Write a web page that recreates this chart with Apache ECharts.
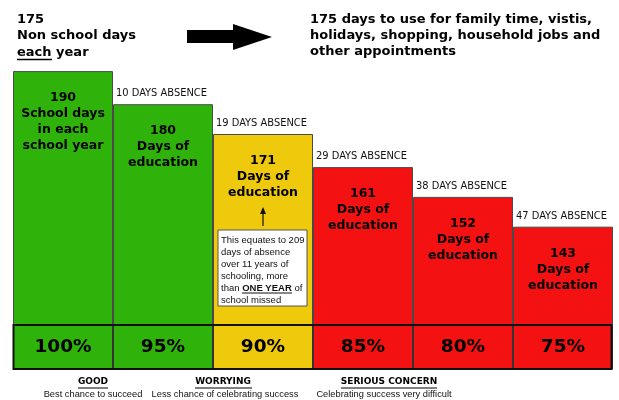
<!DOCTYPE html>
<html>
<head>
<meta charset="utf-8">
<script src="https://cdn.jsdelivr.net/npm/echarts@6/dist/echarts.min.js"></script>
<style>html,body{margin:0;padding:0;background:#fff}#c{width:619px;height:400px}</style>
</head>
<body>
<div id="c"></div>
<script>
// ---- data ----
const categories = ['100%', '95%', '90%', '85%', '80%', '75%'];
const educationDays = [190, 180, 171, 161, 152, 143];
const absenceDays = [null, 10, 19, 29, 38, 47];
const attendanceLabels = ['100%', '95%', '90%', '85%', '80%', '75%'];
const barCaptions = ['School days\nin each\nschool year', 'Days of\neducation', 'Days of\neducation', 'Days of\neducation', 'Days of\neducation', 'Days of\neducation'];
const bandLabels = ['GOOD', 'WORRYING', 'SERIOUS CONCERN'];
const bandNotes = ['Best chance to succeed', 'Less chance of celebrating success', 'Celebrating success very difficult'];

// ---- styles ----
const GREEN = '#2fb30a', YELLOW = '#efc90b', RED = '#f31111';
const barColors = [GREEN, GREEN, YELLOW, RED, RED, RED];
const BOLD = 'DejaVu Sans';
const COND = '"DejaVu Sans Condensed", "DejaVu Sans"';
const ARIAL = '"Liberation Sans", Arial, sans-serif';

const chart = echarts.init(document.getElementById('c'), null, {renderer: 'canvas'});

const option = {
  animation: false,
  backgroundColor: '#fff',
  grid: [
    {left: 13, right: 6, top: 38, bottom: 31},
    {left: 13, right: 6, top: 325, height: 44}
  ],
  xAxis: [
    {type: 'category', data: categories, gridIndex: 0, show: false},
    {type: 'category', data: categories, gridIndex: 1, show: false}
  ],
  yAxis: [
    {type: 'value', min: 100, max: 200, gridIndex: 0, show: false},
    {type: 'value', min: 0, max: 1, gridIndex: 1, show: false}
  ],
  series: [
    {
      type: 'bar', xAxisIndex: 0, yAxisIndex: 0, silent: true,
      barWidth: '100%',
      data: educationDays.map((v, i) => ({value: v, itemStyle: {color: barColors[i]}})),
      itemStyle: {borderColor: '#4a4a4a', borderWidth: 1},
      label: {
        show: true, position: 'insideTop', distance: 19,
        fontFamily: BOLD, fontWeight: 'bold', fontSize: 12.5, lineHeight: 16,
        color: '#000', align: 'center',
        formatter: p => p.value + '\n' + barCaptions[p.dataIndex]
      },
      z: 2
    },
    {
      type: 'bar', xAxisIndex: 0, yAxisIndex: 0, silent: true,
      barWidth: '100%', barGap: '-100%',
      data: educationDays,
      itemStyle: {color: 'rgba(0,0,0,0)'},
      label: {
        show: true, position: 'top', distance: 5, align: 'left', offset: [-47, 0],
        fontFamily: COND, fontSize: 11, lineHeight: 12, color: '#111',
        formatter: p => absenceDays[p.dataIndex] == null ? '' : absenceDays[p.dataIndex] + ' DAYS ABSENCE'
      },
      z: 3
    },
    {
      type: 'bar', xAxisIndex: 1, yAxisIndex: 1, silent: true,
      barWidth: '100%',
      data: attendanceLabels.map((t, i) => ({value: 1, itemStyle: {color: barColors[i]}})),
      itemStyle: {borderColor: '#333', borderWidth: 1},
      label: {
        show: true, position: 'inside',
        fontFamily: BOLD, fontWeight: 'bold', fontSize: 18.5, color: '#000',
        formatter: p => attendanceLabels[p.dataIndex]
      },
      z: 5
    }
  ],
  graphic: [
    {type: 'text', left: 17, top: 11, z: 10, style: {
      text: '175\nNon school days\neach year', font: 'bold 13px ' + BOLD, lineHeight: 16.5, fill: '#000'}},
    {type: 'line', z: 10, shape: {x1: 17, y1: 59.5, x2: 52, y2: 59.5}, style: {stroke: '#000', lineWidth: 1.5}},
    {type: 'polygon', z: 10, shape: {points: [[187,30],[233,30],[233,24],[272,37],[233,50],[233,43],[187,43]]}, style: {fill: '#000'}},
    {type: 'text', left: 310, top: 12, z: 10, style: {
      text: '175 days to use for family time, vistis,\nholidays, shopping, household jobs and\nother appointments',
      font: 'bold 13px ' + BOLD, lineHeight: 16, fill: '#000'}},
    // annotation box
    {type: 'rect', z: 10, shape: {x: 218, y: 230, width: 89, height: 76}, style: {fill: '#fff', stroke: '#555', lineWidth: 1}},
    {type: 'text', left: 221, top: 234, z: 11, style: {
      text: 'This equates to 209\ndays of absence\nover 11 years of\nschooling, more\nthan {b|ONE YEAR} of\nschool missed',
      font: '9.5px ' + ARIAL, lineHeight: 12, fill: '#111',
      rich: {b: {fontFamily: ARIAL, fontWeight: 'bold', fontSize: 9.5, lineHeight: 12}}}},
    {type: 'line', z: 11, shape: {x1: 242, y1: 293, x2: 292, y2: 293}, style: {stroke: '#111', lineWidth: 1}},
    {type: 'line', z: 11, shape: {x1: 263, y1: 226, x2: 263, y2: 212}, style: {stroke: '#111', lineWidth: 1.2}},
    {type: 'polygon', z: 11, shape: {points: [[260,214],[263,207],[266,214]]}, style: {fill: '#111'}},
    // percentage box border
    {type: 'rect', z: 20, shape: {x: 13.5, y: 325, width: 598, height: 44}, style: {fill: 'none', stroke: '#111', lineWidth: 2}},
    // band labels
    {type: 'text', x: 93, y: 382, z: 10, style: {text: bandLabels[0], font: 'bold 9px ' + BOLD, fill: '#000', align: 'center', verticalAlign: 'middle'}},
    {type: 'line', z: 10, shape: {x1: 78, y1: 388, x2: 108, y2: 388}, style: {stroke: '#000', lineWidth: 1}},
    {type: 'text', x: 93, y: 394, z: 10, style: {text: bandNotes[0], font: '9.3px ' + ARIAL, fill: '#111', align: 'center', verticalAlign: 'middle'}},
    {type: 'text', x: 223, y: 382, z: 10, style: {text: bandLabels[1], font: 'bold 9px ' + BOLD, fill: '#000', align: 'center', verticalAlign: 'middle'}},
    {type: 'line', z: 10, shape: {x1: 195, y1: 388, x2: 252, y2: 388}, style: {stroke: '#000', lineWidth: 1}},
    {type: 'text', x: 225, y: 394, z: 10, style: {text: bandNotes[1], font: '9.3px ' + ARIAL, fill: '#111', align: 'center', verticalAlign: 'middle'}},
    {type: 'text', x: 389, y: 382, z: 10, style: {text: bandLabels[2], font: 'bold 9px ' + BOLD, fill: '#000', align: 'center', verticalAlign: 'middle'}},
    {type: 'line', z: 10, shape: {x1: 341, y1: 388, x2: 437, y2: 388}, style: {stroke: '#000', lineWidth: 1}},
    {type: 'text', x: 384, y: 394, z: 10, style: {text: bandNotes[2], font: '9.3px ' + ARIAL, fill: '#111', align: 'center', verticalAlign: 'middle'}}
  ]
};
chart.setOption(option);
</script>
</body>
</html>
